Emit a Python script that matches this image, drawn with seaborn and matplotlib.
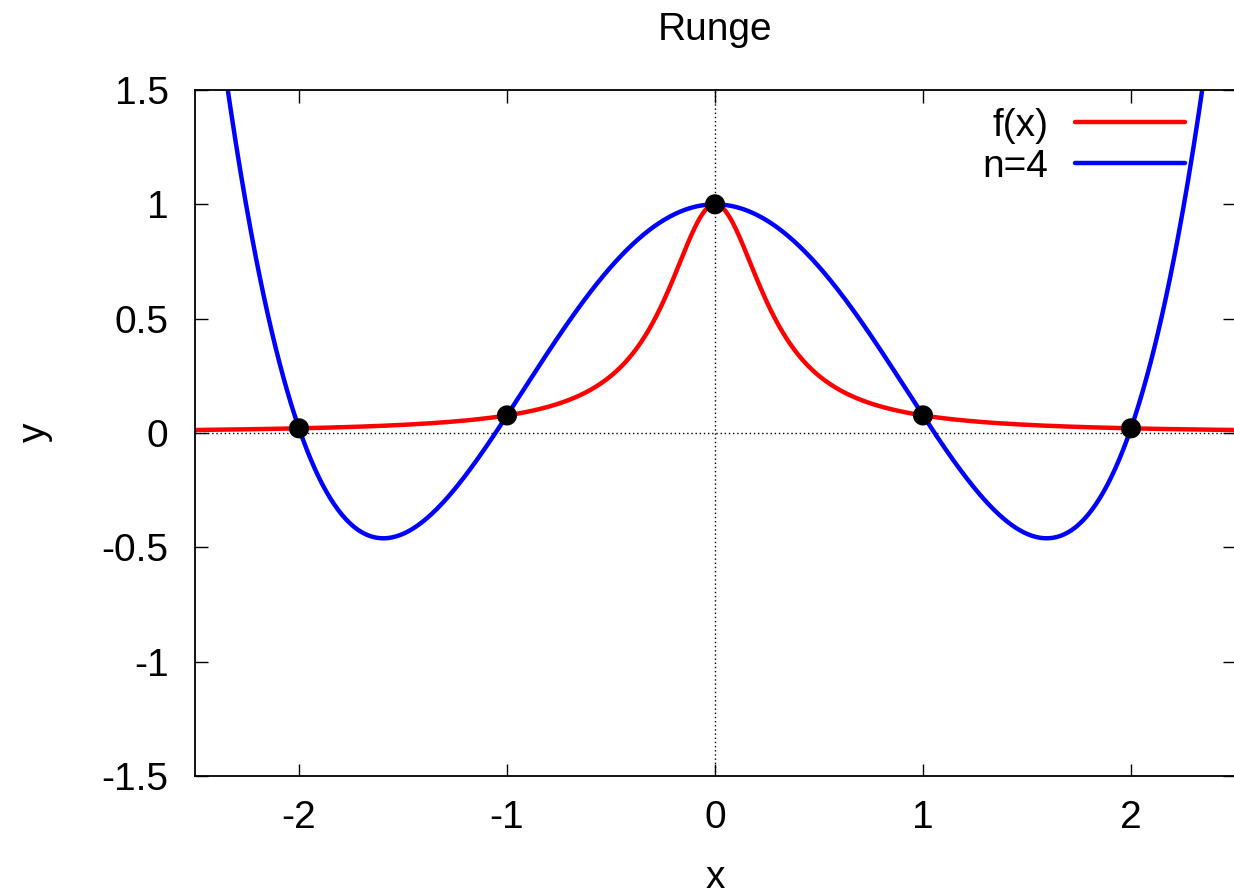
import numpy as np
import pandas as pd
import seaborn as sns
import matplotlib.pyplot as plt

# interpolation nodes
x_nodes = [-2, -1, 0, 1, 2]
y_nodes = [0.0204, 0.0769, 1.0, 0.0769, 0.0204]
runge_k = 12  # f(x) = 1/(1+k x^2), matches the nodes above
x_range = (-2.5, 2.5)
y_range = (-1.5, 1.5)
x_ticks = [-2, -1, 0, 1, 2]
y_ticks = [-1.5, -1, -0.5, 0, 0.5, 1, 1.5]
y_ticklabels = ["-1.5", "-1", "-0.5", "0", "0.5", "1", "1.5"]

xs = np.linspace(x_range[0], x_range[1], 801)
poly = np.polyfit(x_nodes, y_nodes, len(x_nodes) - 1)
df = pd.concat([
    pd.DataFrame({"x": xs, "y": 1 / (1 + runge_k * xs**2), "curve": "f(x)"}),
    pd.DataFrame({"x": xs, "y": np.polyval(poly, xs), "curve": "n=4"}),
])
nodes = pd.DataFrame({"x": x_nodes, "y": y_nodes})

sns.set_style("ticks")
plt.rcParams["font.family"] = ["Liberation Sans", "DejaVu Sans"]
plt.rcParams["text.color"] = "black"
plt.rcParams["xtick.labelcolor"] = "black"
plt.rcParams["ytick.labelcolor"] = "black"
fs = 28

fig = plt.figure(figsize=(12.34, 8.96), dpi=100)
ax = fig.add_axes([195 / 1234, 120 / 896, 1040 / 1234, 686 / 896])

ax.axhline(0, color="black", lw=1, ls=(0, (1, 2)), zorder=1)
ax.axvline(0, color="black", lw=1, ls=(0, (1, 2)), zorder=1)

sns.lineplot(data=df, x="x", y="y", hue="curve", palette=["#ff0000", "#0000ff"],
             lw=3.2, ax=ax, zorder=2, sort=False, estimator=None)
sns.scatterplot(data=nodes, x="x", y="y", color="black", s=210, edgecolor="none",
                ax=ax, zorder=3, legend=False)

ax.set_xlim(*x_range)
ax.set_ylim(*y_range)
ax.set_xticks(x_ticks)
ax.set_xticklabels([str(t) for t in x_ticks])
ax.set_yticks(y_ticks)
ax.set_yticklabels(y_ticklabels)
ax.tick_params(direction="in", length=9, width=1, labelsize=fs, top=True, right=True,
               color="black", labelcolor="black")
ax.tick_params(axis="y", pad=19)
ax.tick_params(axis="x", pad=17)
for sp in ax.spines.values():
    sp.set_visible(True)
    sp.set_color("black")
    sp.set_linewidth(1.3)

ax.set_xlabel("")
ax.set_ylabel("")
fig.text(715 / 1234, 1 - 30 / 896, "Runge", ha="center", va="center", fontsize=fs)
fig.text(715 / 1234, 1 - 878 / 896, "x", ha="center", va="center", fontsize=fs)
fig.text(35 / 1234, 1 - 432 / 896, "y", ha="center", va="center", fontsize=fs, rotation=90)

leg = ax.legend(loc="upper right", bbox_to_anchor=(1 - 50 / 1040, 1 - 18 / 686), frameon=False,
                markerfirst=False, fontsize=fs, handlelength=2.83, handletextpad=0.68,
                labelspacing=0.12, borderpad=0, borderaxespad=0)
for t in leg.get_texts():
    t.set_color("black")

fig.savefig("out.png", dpi=100)
